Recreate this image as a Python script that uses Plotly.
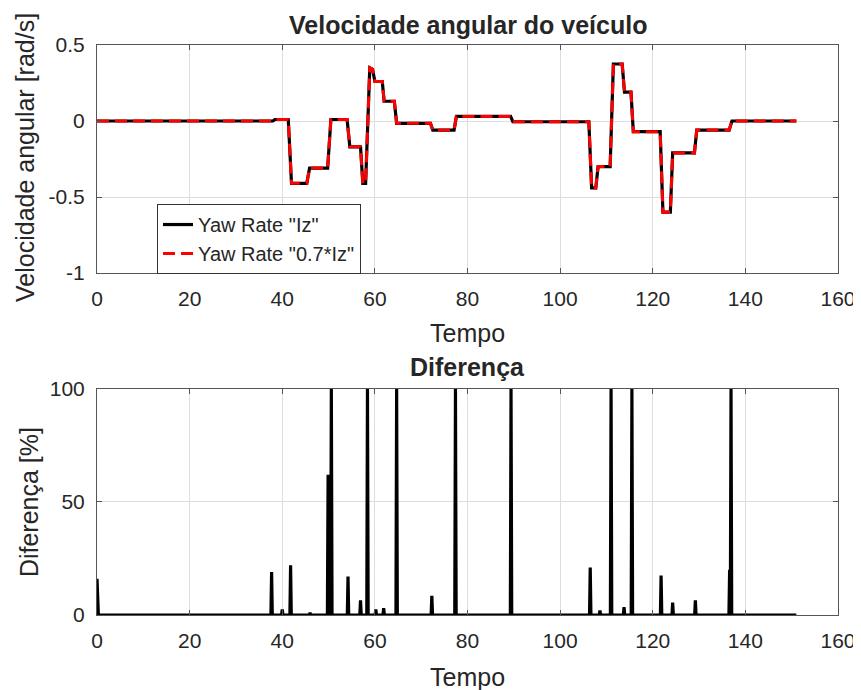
import plotly.graph_objects as go

# ---------------- data ----------------
# Top: yaw-rate step signal (breakpoints)
yaw_t = [0, 38.0, 38.4, 41.3, 42.0, 45.3, 45.9, 49.8, 50.5, 54.0, 54.6, 56.9, 57.4, 58.0,
         58.9, 59.5, 60.0, 61.6, 62.0, 64.2, 64.7, 72.0, 72.5, 77.1, 77.6, 89.3, 89.8,
         106.2, 106.8, 107.7, 108.2, 110.8, 111.5, 113.4, 113.9, 115.3, 115.8, 121.6,
         122.2, 123.8, 124.3, 129.0, 129.5, 136.5, 137.1, 151.0]
yaw_iz = [0, 0, 0.01, 0.01, -0.41, -0.41, -0.31, -0.31, 0.01, 0.01, -0.17, -0.17, -0.41, -0.41,
          0.35, 0.34, 0.26, 0.26, 0.13, 0.13, -0.015, -0.015, -0.06, -0.06, 0.03, 0.03, -0.005,
          -0.005, -0.44, -0.44, -0.30, -0.30, 0.375, 0.375, 0.19, 0.19, -0.07, -0.07,
          -0.60, -0.60, -0.21, -0.21, -0.06, -0.06, 0.0, 0.0]
yaw_07iz = list(yaw_iz)

# Bottom: difference spikes [%]
spike_t = [0, 37.7, 40.0, 41.8, 46.0, 49.9, 50.6, 54.2, 56.9, 58.4, 60.2, 61.9, 64.7, 72.3,
           77.4, 89.4, 106.5, 108.6, 111.0, 113.8, 115.5, 121.8, 124.3, 129.2, 136.6, 136.9]
spike_h = [16, 19, 2.5, 22, 1, 62, 100, 17, 6.5, 100, 2.5, 3, 100, 8.5,
           100, 100, 21, 2, 100, 3.5, 100, 17.5, 5.5, 6.5, 20, 100]
t_end = 151.0

x_ticks = [0, 20, 40, 60, 80, 100, 120, 140, 160]
y1_ticks = [-1, -0.5, 0, 0.5]
y1_text = ["-1", "-0.5", "0", "0.5"]
y2_ticks = [0, 50, 100]

# build spike polyline
diff_t, diff_v = [], []
hw = 0.15
for t, h in zip(spike_t, spike_h):
    if t == 0:
        diff_t += [0, 0.3]
        diff_v += [h, 0]
    else:
        diff_t += [t - hw, t, t + hw]
        diff_v += [0, h, 0]
diff_t.append(t_end)
diff_v.append(0)

# ---------------- figure ----------------
FONT = "Liberation Sans, Arial, Helvetica, sans-serif"
TXT = "#262626"
fig = go.Figure()

fig.add_trace(go.Scatter(x=yaw_t, y=yaw_iz, mode="lines", name='Yaw Rate "Iz"',
                         line=dict(color="black", width=3.2), xaxis="x", yaxis="y"))
fig.add_trace(go.Scatter(x=yaw_t, y=yaw_07iz, mode="lines", name='Yaw Rate "0.7*Iz"',
                         line=dict(color="#ff0000", width=3, dash="12px,6px"),
                         xaxis="x", yaxis="y"))
fig.add_trace(go.Scatter(x=diff_t, y=diff_v, mode="lines", showlegend=False,
                         line=dict(color="black", width=3.2), xaxis="x2", yaxis="y2"))

axis_common = dict(showgrid=True, gridcolor="#dedede", gridwidth=1, zeroline=False,
                   showline=True, linecolor="#555555", linewidth=1, mirror="allticks",
                   ticks="inside", ticklen=5, tickcolor="#555555", automargin=False,
                   tickfont=dict(family=FONT, size=21, color=TXT))

# page body has an 8px margin, so the figure is 8px smaller and shifted
fig.update_layout(
    width=853, height=682,
    margin=dict(l=89, r=23, t=37, b=75),
    paper_bgcolor="white", plot_bgcolor="white",
    font=dict(family=FONT, color=TXT),
    xaxis=dict(domain=[0, 1], range=[0, 160], tickvals=x_ticks, anchor="y",
               ticklabelstandoff=7, **axis_common),
    yaxis=dict(domain=[0.6, 1], range=[-1, 0.5], tickvals=y1_ticks, ticktext=y1_text,
               anchor="x", ticklabelstandoff=7, **axis_common),
    xaxis2=dict(domain=[0, 1], range=[0, 160], tickvals=x_ticks, anchor="y2",
                ticklabelstandoff=7, **axis_common),
    yaxis2=dict(domain=[0, 0.3965], range=[0, 100], tickvals=y2_ticks, anchor="x2",
                ticklabelstandoff=7, **axis_common),
    legend=dict(x=0.081, y=0.721, xanchor="left", yanchor="top",
                bgcolor="white", bordercolor="#333333", borderwidth=1,
                font=dict(family=FONT, size=20, color=TXT), tracegroupgap=0),
    showlegend=True,
)

ann = [
    dict(text="<b>Velocidade angular do veículo</b>", x=0.5, y=1.035, size=25, angle=0),
    dict(text="Tempo", x=0.5, y=0.4947, size=25, angle=0),
    dict(text="<b>Diferença</b>", x=0.5, y=0.435, size=25, angle=0),
    dict(text="Tempo", x=0.5, y=-0.1088, size=25, angle=0),
    dict(text="Velocidade angular [rad/s]", x=-0.0972, y=0.8035, size=25, angle=-90),
    dict(text="Diferença [%]", x=-0.0918, y=0.198, size=25, angle=-90),
]
for a in ann:
    fig.add_annotation(text=a["text"], x=a["x"], y=a["y"], xref="paper", yref="paper",
                       xanchor="center", yanchor="middle", showarrow=False,
                       textangle=a["angle"],
                       font=dict(family=FONT, size=a["size"], color=TXT))

fig.write_html("out.html")
